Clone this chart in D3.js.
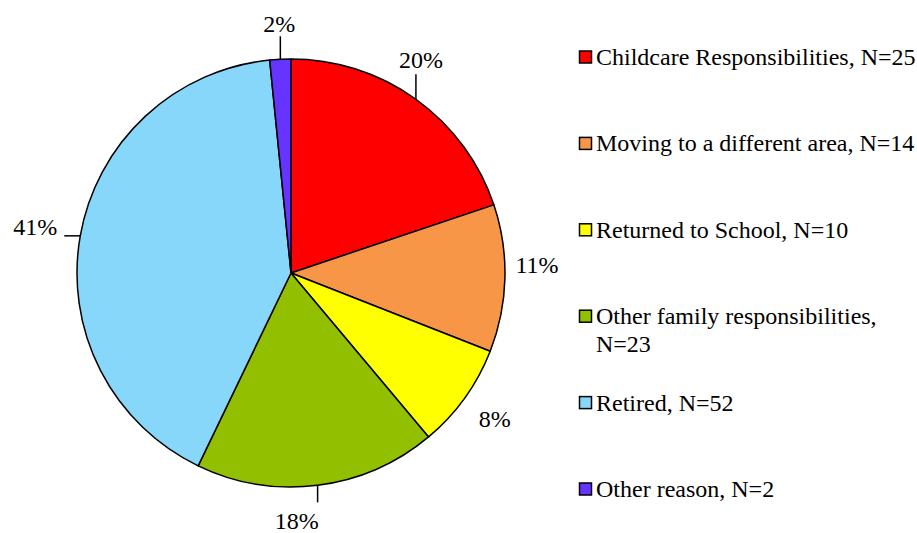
<!DOCTYPE html>
<html>
<head>
<meta charset="utf-8">
<script src="https://cdn.jsdelivr.net/npm/d3@7"></script>
<style>
  body { margin: 0; background: #fff; }
</style>
</head>
<body>
<div id="chart"></div>
<script>
// reasons for leaving, counts
var categories = ["Childcare Responsibilities", "Moving to a different area", "Returned to School",
                  "Other family responsibilities", "Retired", "Other reason"];
var counts = [25, 14, 10, 23, 52, 2];
var pctLabels = ["20%", "11%", "8%", "18%", "41%", "2%"];
var legendLabels = [["Childcare Responsibilities, N=25"], ["Moving to a different area, N=14"],
                    ["Returned to School, N=10"], ["Other family responsibilities,", "N=23"],
                    ["Retired, N=52"], ["Other reason, N=2"]];
var colors = ["#ff0000", "#f79646", "#ffff00", "#92bf00", "#87d7fb", "#6633ff"];

var width = 917, height = 533;
var cx = 291, cy = 273, radius = 214;

var svg = d3.select("#chart").append("svg")
    .attr("width", width).attr("height", height)
    .attr("font-family", "Liberation Serif");
var g = svg.append("g").attr("transform", "translate(" + cx + "," + cy + ")");

var pie = d3.pie().sort(null).value(function(d) { return d; });
var arcs = pie(counts);
var arc = d3.arc().innerRadius(0).outerRadius(radius);

g.selectAll("path.slice")
  .data(arcs)
  .enter().append("path")
  .attr("class", "slice")
  .attr("d", arc)
  .attr("fill", function(d, i) { return colors[i]; })
  .attr("stroke", "#000")
  .attr("stroke-width", 1.5)
  .attr("stroke-linejoin", "round");

// label layout: leader direction/length and text offset from the leader end
var labelLayout = [
  {dx: 0, dy: -25, tx: 5, ty: -15, anchor: "middle"},
  {dx: 0, dy: 0, tx: 32, ty: -14, anchor: "middle"},
  {dx: 0, dy: 0, tx: 30, ty: 21, anchor: "middle"},
  {dx: 0, dy: 17, tx: -21, ty: 18, anchor: "middle"},
  {dx: -16, dy: 0, tx: -7, ty: -9, anchor: "end"},
  {dx: 0, dy: -23, tx: -1, ty: -13, anchor: "middle"}
];

arcs.forEach(function(d, i) {
  var a = (d.startAngle + d.endAngle) / 2;
  var px = radius * Math.sin(a), py = -radius * Math.cos(a);
  var L = labelLayout[i];
  var ex = px + L.dx, ey = py + L.dy;
  if (L.dx !== 0 || L.dy !== 0) {
    g.append("line")
      .attr("x1", px).attr("y1", py)
      .attr("x2", ex).attr("y2", ey)
      .attr("stroke", "#000").attr("stroke-width", 1.5);
  }
  g.append("text")
    .attr("x", ex + L.tx).attr("y", ey + L.ty)
    .attr("dy", "0.35em")
    .attr("text-anchor", L.anchor)
    .attr("font-family", "Liberation Serif")
    .attr("font-size", 24)
    .text(pctLabels[i]);
});

// legend
var legendY = d3.scalePoint().domain(d3.range(categories.length)).range([57, 489]);
var legend = svg.append("g");
categories.forEach(function(c, i) {
  var y = legendY(i);
  legend.append("rect")
    .attr("x", 579.5).attr("y", y - 6)
    .attr("width", 12).attr("height", 12)
    .attr("fill", colors[i]).attr("stroke", "#000").attr("stroke-width", 1.5);
  legendLabels[i].forEach(function(line, j) {
    legend.append("text")
      .attr("x", 596).attr("y", y + j * 28)
      .attr("dy", "0.33em")
      .attr("font-family", "Liberation Serif")
      .attr("font-size", 24)
      .text(line);
  });
});
</script>
</body>
</html>
